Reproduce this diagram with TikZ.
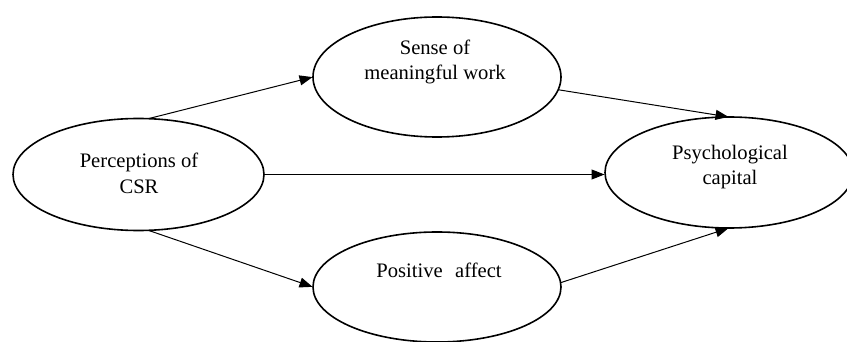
\documentclass[tikz,border=0pt]{standalone}
\usepackage{fontspec}
\setmainfont{Liberation Serif}
\usetikzlibrary{shapes.geometric,arrows.meta}
\begin{document}
\begin{tikzpicture}[x=1pt,y=-1pt,
  ell/.style={draw,ellipse,line width=1.6pt,inner sep=0pt,outer sep=0pt},
  txt/.style={align=center,font=\fontsize{20.6pt}{25.7pt}\selectfont,inner sep=0pt},
  arr/.style={line width=1pt,-{Triangle[length=13pt,width=10pt]},shorten >=0.5pt}]
\useasboundingbox (0,0) rectangle (847,342);
\node[ell,minimum width=251pt,minimum height=112pt] (L) at (138.5,174.5) {};
\node[ell,minimum width=248pt,minimum height=120pt] (T) at (437,77) {};
\node[ell,minimum width=248pt,minimum height=111pt] (R) at (729,172.5) {};
\node[ell,minimum width=248pt,minimum height=110pt] (B) at (437,287) {};
\node[txt] (Lt) at (139,173) {Perceptions of\\CSR};
\node[txt] (Tt) at (435,62) {Sense of\\meaningful work};
\node[txt] (Rt) at (730,167) {Psychological\\capital};
\node[txt,anchor=base] (Bt) at (439,277) {Positive\hspace{0.6em}affect};
\draw[arr] (L.80) -- (T.west);
\draw[arr] (L.east) -- (L.east -| R.west);
\draw[arr] (L.-80) -- (B.west);
\draw[arr] (T.-6) -- (R.north);
\draw[arr] (B.2) -- (R.south);
\end{tikzpicture}
\end{document}
